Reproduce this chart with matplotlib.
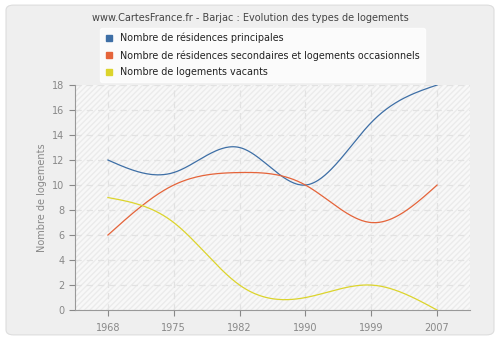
import numpy as np
import matplotlib.pyplot as plt
from matplotlib.patches import FancyBboxPatch, Rectangle

# Data
years = ['1968', '1975', '1982', '1990', '1999', '2007']
principales = [12, 11, 13, 10, 15, 18]
secondaires = [6, 10, 11, 10, 7, 10]
vacants = [9, 7, 2, 1, 2, 0]

labels = ['Nombre de résidences principales',
          'Nombre de résidences secondaires et logements occasionnels',
          'Nombre de logements vacants']
colors = ['#3e6fa6', '#e5643a', '#dcd42c']


def natural_spline(x, y, n=300):
    x = np.asarray(x, float)
    y = np.asarray(y, float)
    k = len(x)
    h = np.diff(x)
    A = np.zeros((k, k))
    b = np.zeros(k)
    A[0, 0] = A[-1, -1] = 1
    for i in range(1, k - 1):
        A[i, i - 1] = h[i - 1]
        A[i, i] = 2 * (h[i - 1] + h[i])
        A[i, i + 1] = h[i]
        b[i] = 6 * ((y[i + 1] - y[i]) / h[i] - (y[i] - y[i - 1]) / h[i - 1])
    m = np.linalg.solve(A, b)
    xs = np.linspace(x[0], x[-1], n)
    ys = np.empty_like(xs)
    for j, t in enumerate(xs):
        i = min(np.searchsorted(x, t, side='right') - 1, k - 2)
        a = x[i + 1] - t
        c = t - x[i]
        ys[j] = (m[i] * a ** 3 + m[i + 1] * c ** 3) / (6 * h[i]) \
            + (y[i] / h[i] - m[i] * h[i] / 6) * a \
            + (y[i + 1] / h[i] - m[i + 1] * h[i] / 6) * c
    return xs, ys


fig = plt.figure(figsize=(5, 3.4), dpi=100)
fig.patch.set_facecolor('#ffffff')
bg = FancyBboxPatch((0.012, 0.015), 0.976, 0.97,
                    boxstyle='round,pad=0,rounding_size=0.015',
                    transform=fig.transFigure, facecolor='#efefef',
                    edgecolor='#dddddd', linewidth=0.8, zorder=-10)
fig.patches.append(bg)

ax = fig.add_axes([0.15, 0.088, 0.79, 0.662])
ax.set_zorder(1)
ax.set_facecolor('#f8f8f8')
ax.add_patch(Rectangle((0, 0), 1, 1, transform=ax.transAxes, facecolor='none',
                       edgecolor='#ebebeb', hatch='//////', linewidth=0, zorder=0))

xi = np.arange(len(years))
for series, col in zip([principales, secondaires, vacants], colors):
    xs, ys = natural_spline(xi, series)
    ax.plot(xs, ys, color=col, linewidth=0.9, zorder=3)

ax.set_xlim(-0.5, len(years) - 0.5)
ax.set_ylim(0, 18)
ax.set_yticks(range(0, 19, 2))
ax.set_xticks(xi)
ax.set_xticklabels(years)
ax.grid(True, color='#e2e2e2', linestyle=(0, (5, 4)), linewidth=0.9)
ax.set_axisbelow(True)
for s in ['top', 'right']:
    ax.spines[s].set_visible(False)
for s in ['left', 'bottom']:
    ax.spines[s].set_color('#999999')
ax.tick_params(colors='#888888', labelsize=7, length=4, width=0.8)
ax.tick_params(axis='x', pad=5)
ax.set_ylabel('Nombre de logements', color='#888888', fontsize=7)

fig.text(0.5, 0.948, 'www.CartesFrance.fr - Barjac : Evolution des types de logements',
         ha='center', va='center', fontsize=7, color='#444444')

handles = [plt.Line2D([], [], marker='s', linestyle='none', color=c, markersize=4.5)
           for c in colors]
leg = fig.legend(handles, labels, loc='upper left', bbox_to_anchor=(0.2, 0.918),
                 borderaxespad=0, frameon=True, fontsize=6.9, handlelength=0.8,
                 handletextpad=0.8, labelspacing=0.72, borderpad=0.5, fancybox=True)
leg.set_zorder(5)
leg.get_frame().set_facecolor('white')
leg.get_frame().set_edgecolor('white')
for t in leg.get_texts():
    t.set_color('#222222')

fig.savefig('out.png', dpi=100, facecolor=fig.get_facecolor())
